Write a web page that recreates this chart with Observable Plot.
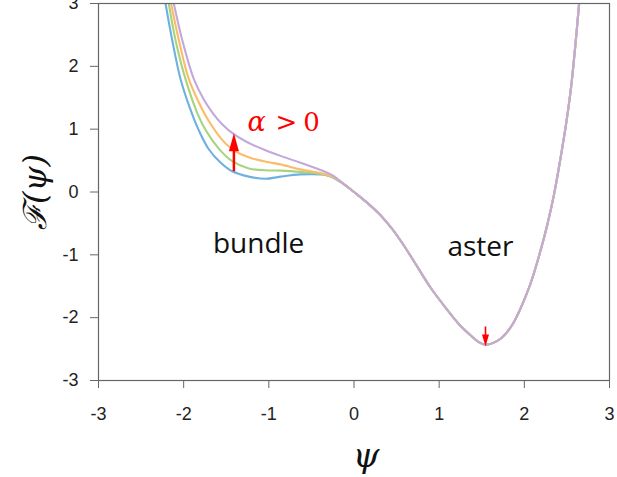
<!DOCTYPE html>
<html>
<head>
<meta charset="utf-8">
<script src="https://cdn.jsdelivr.net/npm/d3@7"></script>
<script src="https://cdn.jsdelivr.net/npm/@observablehq/plot@0.6"></script>
<style>
  html, body { margin: 0; padding: 0; background: #fff; }
  #chart svg { display: block; }
</style>
</head>
<body>
<div id="chart"></div>
<script>
// ---- data ----
const seriesNames = ["a0", "a1", "a2", "a3"];
const seriesColors = ["#6eb0e0", "#a6d57e", "#fdbb6a", "#c3a9d9"];

// left branches (differ with alpha)
const psiLeft0 = [-2.213, -2.135, -2.037, -1.920, -1.822, -1.705, -1.568, -1.430, -1.235, -1.039, -0.863, -0.628, -0.393, -0.320, -0.241, -0.160];
const FLeft0   = [  3.00,   2.42,   1.80,   1.31,   0.98,   0.68,   0.47,   0.33,  0.245,   0.21,  0.245,   0.28,   0.28,  0.265,  0.225,  0.160];
const psiLeft1 = [-2.175, -2.096, -1.979, -1.841, -1.744, -1.588, -1.430, -1.235, -1.039, -0.863, -0.628, -0.393, -0.320, -0.241, -0.160];
const FLeft1   = [  3.00,   2.42,   1.80,   1.26,   0.99,   0.69,   0.49,  0.375,  0.345,   0.34,   0.32,   0.29,  0.265,  0.230,  0.162];
const psiLeft2 = [-2.148, -2.057, -1.940, -1.802, -1.705, -1.548, -1.392, -1.195, -1.000, -0.863, -0.628, -0.393, -0.320, -0.241, -0.160];
const FLeft2   = [  3.00,   2.42,   1.80,   1.37,   1.13,   0.83,  0.645,  0.535,  0.475,   0.44,   0.36,   0.30,  0.275,  0.237,  0.166];
const psiLeft3 = [-2.116, -2.017, -1.881, -1.767, -1.650, -1.548, -1.411, -1.235, -1.039, -0.863, -0.628, -0.393, -0.320, -0.241, -0.160];
const FLeft3   = [  3.00,   2.42,   1.80,   1.48,   1.24,   1.08,   0.92,   0.78,  0.665,  0.575,  0.465,   0.35,   0.31,  0.255,  0.172];

// shared right branch (all curves coincide)
const psiRight = [-0.08, 0.00, 0.15, 0.311, 0.45, 0.57, 0.698, 0.898, 1.098, 1.23, 1.368, 1.46, 1.544, 1.63, 1.72, 1.80, 1.873, 1.94, 2.013, 2.072, 2.17, 2.27, 2.35, 2.42, 2.49, 2.55, 2.60, 2.64, 2.68];
const FRight   = [0.085, 0.00, -0.165, -0.37, -0.59, -0.82, -1.09, -1.52, -1.88, -2.10, -2.28, -2.385, -2.43, -2.405, -2.335, -2.225, -2.08, -1.90, -1.67, -1.46, -1.03, -0.52, -0.03, 0.50, 1.08, 1.68, 2.35, 2.95, 3.60];

const xTicks = [-3, -2, -1, 0, 1, 2, 3];
const yTicks = [-3, -2, -1, 0, 1, 2, 3];

const labelText = ["bundle", "aster"];
const labelPsi  = [-1.12, 1.485];
const labelF    = [-0.83, -0.875];

// red arrows: tail, shaft end, tip
const arrowPsi  = [-1.41, 1.544];
const arrowTail = [0.33, -2.14];
const arrowShaftEnd = [0.70, -2.33];
const arrowTip  = [0.935, -2.46];

// "α > 0" annotation pieces
const alphaPieces = ["α", ">", "0"];
const alphaPsi = [-1.2506, -0.793, -0.499];
const alphaF = 0.966;

// ---- build table ----
const lefts = [[psiLeft0, FLeft0], [psiLeft1, FLeft1], [psiLeft2, FLeft2], [psiLeft3, FLeft3]];
const rows = [];
lefts.forEach(([px, pf], i) => {
  px.forEach((p, j) => rows.push({series: seriesNames[i], psi: p, F: pf[j]}));
  psiRight.forEach((p, j) => rows.push({series: seriesNames[i], psi: p, F: FRight[j]}));
});

const headUp = {draw(ctx) { ctx.moveTo(0, 0); ctx.lineTo(-5, 18); ctx.lineTo(5, 18); ctx.closePath(); }};
const headDown = {draw(ctx) { ctx.moveTo(0, 0); ctx.lineTo(-3.5, -12); ctx.lineTo(3.5, -12); ctx.closePath(); }};
const arrows = arrowPsi.map((p, i) => ({psi: p, tail: arrowTail[i], end: arrowShaftEnd[i], tip: arrowTip[i], w: i === 0 ? 2.5 : 1.6}));

const serif = "'DejaVu Serif', 'Liberation Serif', serif";

const chart = Plot.plot({
  width: 617,
  height: 477,
  marginLeft: 98,
  marginRight: 8,
  marginTop: 3,
  marginBottom: 97,
  style: {fontFamily: "'Liberation Sans', Arial, sans-serif", fontSize: "18px", color: "#222", background: "#fff"},
  x: {domain: [-3, 3]},
  y: {domain: [-3, 3]},
  color: {domain: seriesNames, range: seriesColors},
  marks: [
    Plot.line(rows, {x: "psi", y: "F", z: "series", stroke: "series", strokeWidth: 2.1, curve: "catmull-rom", clip: true}),
    Plot.frame({stroke: "#666", strokeWidth: 1.2}),
    Plot.axisX({ticks: xTicks, tickSize: 8, tickPadding: 19, tickFormat: d => String(d), label: null, stroke: "#666", fontSize: 18}),
    Plot.axisY({ticks: yTicks, tickSize: 8, tickPadding: 12, tickFormat: d => String(d), label: null, stroke: "#666", fontSize: 18}),
    Plot.link(arrows, {x1: "psi", x2: "psi", y1: "tail", y2: "end", stroke: "red", strokeWidth: "w"}),
    Plot.dot(arrows.slice(0, 1), {x: "psi", y: "tip", symbol: headUp, fill: "red", stroke: null, r: 5}),
    Plot.dot(arrows.slice(1, 2), {x: "psi", y: "tip", symbol: headDown, fill: "red", stroke: null, r: 5}),
    Plot.text(labelText, {x: (d, i) => labelPsi[i], y: (d, i) => labelF[i], text: d => d, fontFamily: "'Open Sans', sans-serif", fontSize: 28, fill: "#111"}),
    Plot.text(alphaPieces.slice(0, 1), {x: (d, i) => alphaPsi[0], y: () => alphaF, text: d => d, textAnchor: "start", lineAnchor: "bottom", fontFamily: serif, fontStyle: "italic", fontSize: 27, fill: "red"}),
    Plot.text(alphaPieces.slice(1), {x: (d, i) => alphaPsi[i + 1], y: () => alphaF, text: d => d, textAnchor: "middle", lineAnchor: "bottom", fontFamily: serif, fontSize: 26, fill: "red"}),
    Plot.text(["ℱ(ψ)"], {frameAnchor: "left", textAnchor: "middle", lineAnchor: "middle", text: d => d, dx: -63, rotate: -90, fontFamily: serif, fontStyle: "italic", fontSize: 32, fill: "#111"}),
    Plot.text(["ψ"], {frameAnchor: "bottom", textAnchor: "middle", lineAnchor: "middle", text: d => d, dx: 12, dy: 76, fontFamily: serif, fontStyle: "italic", fontSize: 34, fill: "#111"})
  ]
});
document.getElementById("chart").appendChild(chart);
</script>
</body>
</html>
